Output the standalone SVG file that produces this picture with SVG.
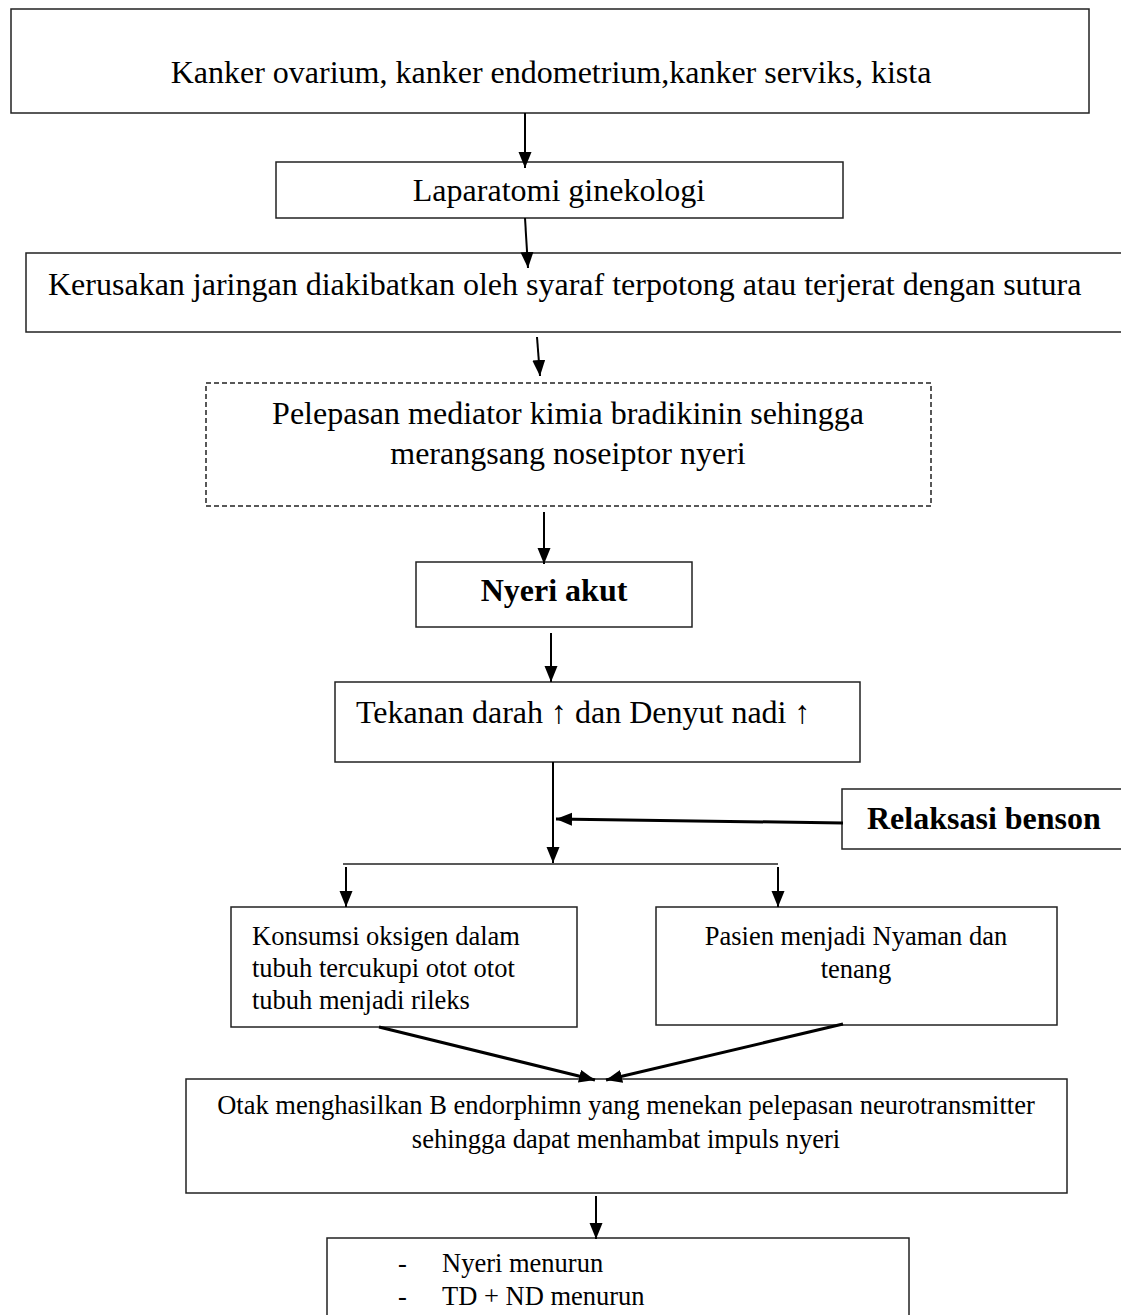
<svg xmlns="http://www.w3.org/2000/svg" width="1121" height="1315" viewBox="0 0 1121 1315">
<style>
.box{fill:#fff;stroke:#222;stroke-width:1.5}
.dash{stroke-dasharray:5 3}
.t{font-family:"Liberation Serif","Times New Roman",serif;font-size:32px;fill:#000}
.s{font-size:26.5px}
.b{font-weight:bold}
.m{text-anchor:middle}
.c{fill:none;stroke:#000;stroke-width:2}
.k{stroke-width:3}
.h{fill:none;stroke:#222;stroke-width:1.5}
</style>
<defs>
<marker id="ah" markerUnits="userSpaceOnUse" markerWidth="18" markerHeight="14" refX="16" refY="6.5" orient="auto"><path d="M0,0 L16,6.5 L0,13 Z" fill="#000"/></marker>
</defs>
<rect width="1121" height="1315" fill="#fff"/>
<g id="n1"><rect class="box" x="11" y="9" width="1078" height="104"/><text class="t m" x="551" y="83">Kanker ovarium, kanker endometrium,kanker serviks, kista</text></g>
<g id="n2"><rect class="box" x="276" y="162" width="567" height="56"/><text class="t m" x="559" y="201">Laparatomi ginekologi</text></g>
<g id="n3"><rect class="box" x="26" y="253" width="1110" height="79"/><text class="t" x="48" y="295">Kerusakan jaringan diakibatkan oleh syaraf terpotong atau terjerat dengan sutura</text></g>
<g id="n4"><rect class="box dash" x="206" y="383" width="725" height="123"/><text class="t m" x="568" y="424">Pelepasan mediator kimia bradikinin sehingga</text><text class="t m" x="568" y="464">merangsang noseiptor nyeri</text></g>
<g id="n5"><rect class="box" x="416" y="562" width="276" height="65"/><text class="t b m" x="554" y="601">Nyeri akut</text></g>
<g id="n6"><rect class="box" x="335" y="682" width="525" height="80"/><text class="t" x="356" y="723">Tekanan darah ↑ dan Denyut nadi ↑</text></g>
<g id="n7"><rect class="box" x="842" y="789" width="290" height="60"/><text class="t b" x="867" y="829">Relaksasi benson</text></g>
<g id="n8"><rect class="box" x="231" y="907" width="346" height="120"/><text class="t s" x="252" y="945">Konsumsi oksigen dalam</text><text class="t s" x="252" y="977">tubuh tercukupi otot otot</text><text class="t s" x="252" y="1009">tubuh menjadi rileks</text></g>
<g id="n9"><rect class="box" x="656" y="907" width="401" height="118"/><text class="t s m" x="856" y="945">Pasien menjadi Nyaman dan</text><text class="t s m" x="856" y="978">tenang</text></g>
<g id="n10"><rect class="box" x="186" y="1079" width="881" height="114"/><text class="t s m" x="626" y="1114">Otak menghasilkan B endorphimn yang menekan pelepasan neurotransmitter</text><text class="t s m" x="626" y="1148">sehingga dapat menhambat impuls nyeri</text></g>
<g id="n11"><rect class="box" x="327" y="1238" width="582" height="90"/><text class="t s" x="398" y="1272">-</text><text class="t s" x="442" y="1272">Nyeri menurun</text><text class="t s" x="398" y="1305">-</text><text class="t s" x="442" y="1305">TD + ND menurun</text></g>
<g id="connectors">
<line class="c" x1="525" y1="113" x2="525" y2="168" marker-end="url(#ah)"/>
<line class="c" x1="525" y1="218" x2="528" y2="268" marker-end="url(#ah)"/>
<line class="c" x1="537" y1="337" x2="540" y2="376" marker-end="url(#ah)"/>
<line class="c" x1="544" y1="512" x2="544" y2="564" marker-end="url(#ah)"/>
<line class="c" x1="551" y1="633" x2="551" y2="682" marker-end="url(#ah)"/>
<line class="c" x1="553" y1="762" x2="553" y2="863" marker-end="url(#ah)"/>
<line class="c k" x1="843" y1="823" x2="556" y2="819" marker-end="url(#ah)"/>
<line class="h" x1="343" y1="864" x2="778" y2="864"/>
<line class="c" x1="346" y1="867" x2="346" y2="907" marker-end="url(#ah)"/>
<line class="c" x1="778" y1="867" x2="778" y2="907" marker-end="url(#ah)"/>
<line class="c k" x1="379" y1="1027" x2="595" y2="1080" marker-end="url(#ah)"/>
<line class="c k" x1="843" y1="1024" x2="606" y2="1080" marker-end="url(#ah)"/>
<line class="c" x1="596" y1="1196" x2="596" y2="1239" marker-end="url(#ah)"/>
</g>
</svg>
